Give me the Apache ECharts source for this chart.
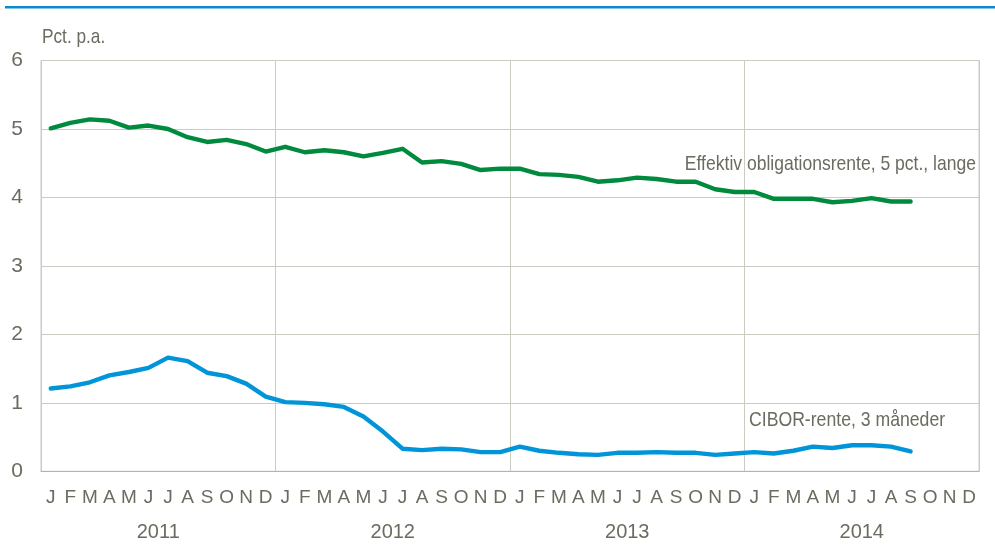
<!DOCTYPE html>
<html>
<head>
<meta charset="utf-8">
<script src="https://cdn.jsdelivr.net/npm/echarts@6/dist/echarts.min.js"></script>
<style>
html,body{margin:0;padding:0;background:#fff;}
#chart{width:995px;height:554px;}
</style>
</head>
<body>
<div id="chart"></div>
<script>
const monthLabels = ['J','F','M','A','M','J','J','A','S','O','N','D'];
const years = ['2011','2012','2013','2014'];
const yTicks = [0,1,2,3,4,5,6];
const greenName = 'Effektiv obligationsrente, 5 pct., lange';
const blueName = 'CIBOR-rente, 3 måneder';
const greenValues = [
  5.01,5.09,5.14,5.12,5.02,5.05,5.00,4.88,4.81,4.84,4.78,4.67,
  4.74,4.66,4.69,4.66,4.60,4.65,4.71,4.51,4.53,4.49,4.40,4.42,
  4.42,4.34,4.33,4.30,4.23,4.25,4.29,4.27,4.23,4.23,4.12,4.08,
  4.08,3.98,3.98,3.98,3.93,3.95,3.99,3.94,3.94
];
const blueValues = [
  1.21,1.24,1.30,1.40,1.45,1.51,1.66,1.61,1.44,1.39,1.28,1.09,
  1.01,1.00,0.98,0.94,0.80,0.58,0.33,0.31,0.33,0.32,0.28,0.28,
  0.36,0.30,0.27,0.25,0.24,0.27,0.27,0.28,0.27,0.27,0.24,0.26,
  0.28,0.26,0.30,0.36,0.34,0.38,0.38,0.36,0.29
];

const categories = [];
years.forEach(y => monthLabels.forEach((m,i) => categories.push(y + '-' + (i+1))));
const monthOf = {};
categories.forEach((c,i) => { monthOf[c] = monthLabels[i % 12]; });

const FONT = "'Liberation Sans Narrow','Liberation Sans',Arial,sans-serif";
const TXT = '#6b6b5f';
const GRIDC = '#cbcbc2';

const chart = echarts.init(document.getElementById('chart'), null, {renderer:'canvas'});
chart.setOption({
  animation:false,
  backgroundColor:'#fff',
  grid:{left:41,right:16,top:60.5,bottom:82.7,show:true,borderColor:GRIDC,borderWidth:1},
  xAxis:[{
    type:'category',
    data:categories,
    boundaryGap:true,
    axisLine:{show:true,lineStyle:{color:'#b4b4aa',width:1}},
    axisTick:{show:false},
    splitLine:{show:false},
    axisLabel:{interval:0,margin:17,fontSize:19,color:TXT,fontFamily:FONT,formatter:v=>monthOf[v]}
  },{
    type:'category',
    data:years,
    position:'bottom',
    boundaryGap:true,
    axisLine:{show:false},
    axisTick:{show:false},
    splitLine:{show:true,interval:0,lineStyle:{color:GRIDC,width:1}},
    axisLabel:{interval:0,margin:51,fontSize:20,color:TXT,fontFamily:FONT}
  }],
  yAxis:{
    type:'value',min:yTicks[0],max:yTicks[yTicks.length-1],interval:1,
    axisLine:{show:false},axisTick:{show:false},
    splitLine:{show:true,lineStyle:{color:GRIDC,width:1}},
    axisLabel:{margin:18,fontSize:21,color:TXT,fontFamily:FONT}
  },
  series:[{
    name:greenName,type:'line',data:greenValues,xAxisIndex:0,
    showSymbol:false,symbol:'none',
    lineStyle:{color:'#008a3e',width:4.4,cap:'round',join:'round'},z:3
  },{
    name:blueName,type:'line',data:blueValues,xAxisIndex:0,
    showSymbol:false,symbol:'none',
    lineStyle:{color:'#0095d8',width:4.4,cap:'round',join:'round'},z:3
  }],
  graphic:[
    {type:'line',shape:{x1:5,y1:7.3,x2:995,y2:7.3},style:{stroke:'#0a8ccc',lineWidth:2.4},silent:true},
    {type:'text',x:42,y:37,scaleX:0.82,style:{text:'Pct. p.a.',fontSize:21,fill:TXT,fontFamily:FONT,textAlign:'left',textVerticalAlign:'middle'}},
    {type:'text',x:976,y:164,scaleX:0.835,style:{text:greenName,fontSize:21,fill:TXT,fontFamily:FONT,textAlign:'right',textVerticalAlign:'middle'}},
    {type:'text',x:749,y:420,scaleX:0.84,style:{text:blueName,fontSize:21,fill:TXT,fontFamily:FONT,textAlign:'left',textVerticalAlign:'middle'}}
  ]
});
</script>
</body>
</html>
